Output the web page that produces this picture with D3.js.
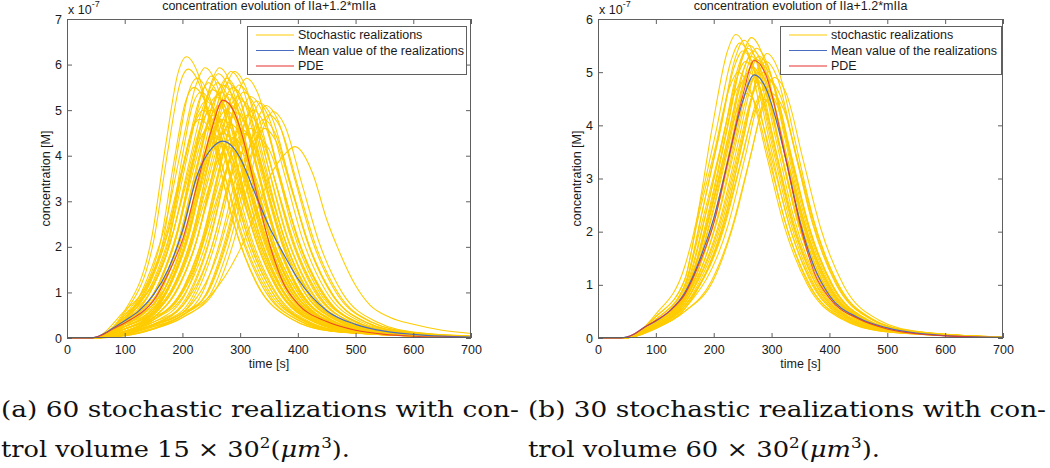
<!DOCTYPE html>
<html><head><meta charset="utf-8">
<script src="https://cdn.jsdelivr.net/npm/d3@7"></script>
<style>body{margin:0;background:#fff}svg{display:block}</style>
</head><body>
<svg id="c" width="1050" height="468"></svg>
<script>
// ---------- data (values in units of 1e-7 M, time in s) ----------
const xTicks=[0,100,200,300,400,500,600,700];
const yTicksA=[0,1,2,3,4,5,6,7];
const yTicksB=[0,1,2,3,4,5,6];
const titleText="concentration evolution of IIa+1.2*mIIa";
const xLabel="time [s]";
const yLabel="concentration [M]";
const legendA=["Stochastic realizations","Mean value of the realizations","PDE"];
const legendB=["stochastic realizations","Mean value of the realizations","PDE"];

const gridT=[0,40,50,60,80,100,125,150,175,200,225,250,270,290,300,325,350,375,400,450,500,550,600,650,700];
const pdeV=[0,0,0.02,0.06,0.2,0.33,0.52,0.82,1.4,2.15,3.35,4.55,5.22,4.95,4.6,3.35,2.1,1.2,0.75,0.36,0.17,0.08,0.04,0.02,0.01];
const meanAV=[0,0,0.02,0.07,0.22,0.38,0.6,0.95,1.5,2.35,3.55,4.15,4.32,4.15,3.95,3.2,2.45,1.85,1.3,0.6,0.3,0.15,0.08,0.04,0.02];
const meanBV=[0,0,0.02,0.06,0.2,0.32,0.52,0.85,1.45,2.25,3.35,4.45,4.95,4.7,4.4,3.35,2.15,1.3,0.8,0.38,0.19,0.09,0.045,0.02,0.01];

// each realization: flattened [t,v, t,v, ...]
const realA=[
[0,0,45,0,100,.6,147,2.22,172,4.32,192,5.8,207,6.17,227,5.8,257,4.2,287,2.59,327,1.23,387,.43,457,.15,700,.01],
[0,0,45,0,100,.55,150,2.12,175,4.13,195,5.55,210,5.9,230,5.55,260,4.01,290,2.48,330,1.18,390,.41,460,.15,700,.01],
[0,0,45,0,100,.5,160,2.0,185,3.85,205,5.17,220,5.5,240,5.17,270,3.74,300,2.31,340,1.1,400,.39,470,.14,700,.01],
[0,0,45,0,100,.45,165,2.05,190,3.99,210,5.36,225,5.7,245,5.36,275,3.88,305,2.39,345,1.14,405,.4,475,.14,700,.01],
[0,0,45,0,100,.45,172,1.94,197,3.78,217,5.08,232,5.4,252,5.08,282,3.67,312,2.27,352,1.08,412,.38,482,.135,700,.01],
[0,0,45,0,100,.5,170,1.73,195,3.36,215,4.51,230,4.8,250,4.51,280,3.26,310,2.02,350,.96,410,.34,480,.12,700,.01],
[0,0,45,0,100,.6,136,1.1,166,2.05,196,3.55,221,4.7,236,5.0,256,4.7,286,3.4,316,2.1,356,1.0,416,.35,486,.125,700,.01],
[0,0,45,0,100,.4,139,1.3,169,2.43,199,4.21,224,5.57,239,5.93,259,5.57,289,4.03,319,2.49,359,1.19,419,.42,489,.15,700,.01],
[0,0,45,0,100,.4,140,1.14,170,2.13,200,3.69,225,4.89,240,5.2,260,4.89,290,3.54,320,2.18,360,1.04,420,.36,490,.13,700,.01],
[0,0,45,0,100,.45,144,1.01,174,1.89,204,3.27,229,4.32,244,4.6,264,4.32,294,3.13,324,1.93,364,.92,424,.32,494,.115,700,.01],
[0,0,45,0,100,.35,145,1.23,175,2.3,205,3.98,230,5.26,245,5.6,265,5.26,295,3.81,325,2.35,365,1.12,425,.39,495,.14,700,.01],
[0,0,45,0,100,.35,148,1.1,178,2.05,208,3.55,233,4.7,248,5.0,268,4.7,298,3.4,328,2.1,368,1.0,428,.35,498,.125,700,.01],
[0,0,45,0,100,.4,150,1.27,180,2.36,210,4.08,235,5.41,250,5.75,270,5.41,300,3.91,330,2.42,370,1.15,430,.4,500,.14,700,.01],
[0,0,45,0,100,.3,152,1.2,182,2.23,212,3.87,237,5.12,252,5.45,272,5.12,302,3.71,332,2.29,372,1.09,432,.38,502,.14,700,.01],
[0,0,45,0,100,.35,155,1.08,185,2.01,215,3.48,240,4.61,255,4.9,275,4.61,305,3.33,335,2.06,375,.98,435,.34,505,.12,700,.01],
[0,0,45,0,100,.4,156,.97,186,1.8,216,3.12,241,4.14,256,4.4,276,4.14,306,2.99,336,1.85,376,.88,436,.31,506,.11,700,.01],
[0,0,45,0,100,.3,158,1.17,188,2.17,218,3.76,243,4.98,258,5.3,278,4.98,308,3.6,338,2.23,378,1.06,438,.37,508,.13,700,.01],
[0,0,45,0,100,.3,160,1.23,190,2.3,220,3.98,245,5.26,260,5.6,280,5.26,310,3.81,340,2.35,380,1.12,440,.39,510,.14,700,.01],
[0,0,45,0,100,.25,162,1.12,192,2.09,222,3.62,247,4.79,262,5.1,282,4.79,312,3.47,342,2.14,382,1.02,442,.36,512,.13,700,.01],
[0,0,45,0,100,.35,163,.95,193,1.76,223,3.05,248,4.04,263,4.3,283,4.04,313,2.92,343,1.81,383,.86,443,.3,513,.11,700,.01],
[0,0,45,0,100,.35,162,1.28,192,2.38,222,4.12,247,5.45,262,5.8,282,5.45,312,3.94,342,2.44,382,1.16,442,.41,512,.145,700,.01],
[0,0,45,0,100,.3,164,1.3,194,2.43,224,4.21,249,5.57,264,5.93,284,5.57,314,4.03,344,2.49,384,1.19,444,.42,514,.15,700,.01],
[0,0,45,0,100,.3,150,.75,166,1.19,196,2.21,226,3.83,251,5.08,266,5.4,286,5.08,316,3.67,346,2.27,386,1.08,446,.38,516,.135,700,.01],
[0,0,45,0,100,.25,150,.6,168,1.06,198,1.97,228,3.41,253,4.51,268,4.8,288,4.51,318,3.26,348,2.02,388,.96,448,.34,518,.12,700,.01],
[0,0,45,0,100,.25,150,.7,170,1.22,200,2.28,230,3.94,255,5.22,270,5.55,290,5.22,320,3.77,350,2.33,390,1.11,450,.39,520,.14,700,.01],
[0,0,45,0,100,.3,150,.65,170,.99,200,1.85,230,3.2,255,4.23,270,4.5,290,4.23,320,3.06,350,1.89,390,.9,450,.32,520,.11,700,.01],
[0,0,45,0,100,.3,150,.75,172,1.14,202,2.13,232,3.69,257,4.89,272,5.2,292,4.89,322,3.54,352,2.18,392,1.04,452,.36,522,.13,700,.01],
[0,0,45,0,100,.2,150,.55,175,1.1,205,2.05,235,3.55,260,4.7,275,5.0,295,4.7,325,3.4,355,2.1,395,1.0,455,.35,525,.125,700,.01],
[0,0,45,0,100,.25,150,.65,176,1.25,206,2.34,236,4.05,261,5.36,276,5.7,296,5.36,326,3.88,356,2.39,396,1.14,456,.4,526,.14,700,.015],
[0,0,45,0,100,.25,150,.55,178,.92,208,1.72,238,2.98,263,3.95,278,4.2,298,3.95,328,2.86,358,1.76,398,.84,458,.29,528,.105,700,.01],
[0,0,45,0,100,.2,150,.6,179,1.23,209,2.3,239,3.98,264,5.26,279,5.6,299,5.26,329,3.81,359,2.35,399,1.12,459,.39,529,.14,700,.015],
[0,0,45,0,100,.2,150,.55,180,1.18,210,2.19,240,3.8,265,5.03,280,5.35,300,5.03,330,3.64,360,2.25,400,1.07,460,.37,530,.13,700,.015],
[0,0,45,0,100,.2,150,.5,182,1.03,212,1.93,242,3.34,267,4.42,282,4.7,302,4.42,332,3.2,362,1.97,402,.94,462,.33,532,.12,700,.015],
[0,0,45,0,100,.25,150,.6,184,1.29,214,2.4,244,4.15,269,5.5,284,5.85,304,5.5,334,3.98,364,2.46,404,1.17,464,.41,534,.15,700,.015],
[0,0,45,0,100,.2,150,.5,185,1.12,215,2.09,245,3.62,270,4.79,285,5.1,305,4.79,335,3.47,365,2.14,405,1.02,465,.36,535,.13,700,.015],
[0,0,45,0,100,.2,150,.45,186,.97,216,1.8,246,3.12,271,4.14,286,4.4,306,4.14,336,2.99,366,1.85,406,.88,466,.31,536,.11,700,.015],
[0,0,45,0,100,.2,150,.55,187,1.21,217,2.26,247,3.91,272,5.17,287,5.5,307,5.17,337,3.74,367,2.31,407,1.1,467,.39,537,.14,700,.015],
[0,0,45,0,100,.2,150,.55,190,1.29,220,2.4,250,4.15,275,5.5,290,5.85,310,5.5,340,3.98,370,2.46,410,1.17,470,.41,540,.15,700,.02],
[0,0,45,0,100,.15,150,.45,192,1.09,222,2.03,252,3.51,277,4.65,292,4.95,312,4.65,342,3.37,372,2.08,412,.99,472,.35,542,.12,700,.02],
[0,0,45,0,100,.15,150,.45,195,1.17,225,2.17,255,3.76,280,4.98,295,5.3,315,4.98,345,3.6,375,2.23,415,1.06,475,.37,545,.13,700,.02],
[0,0,45,0,100,.2,150,.45,196,.9,226,1.68,256,2.91,281,3.85,296,4.1,316,3.85,346,2.79,376,1.72,416,.82,476,.29,546,.1,700,.02],
[0,0,45,0,100,.15,150,.45,198,1.22,228,2.28,258,3.94,283,5.22,298,5.55,318,5.22,348,3.77,378,2.33,418,1.11,478,.39,548,.14,700,.02],
[0,0,45,0,100,.15,150,.4,200,1.01,230,1.89,260,3.27,285,4.32,300,4.6,320,4.32,350,3.13,380,1.93,420,.92,480,.32,550,.115,700,.02],
[0,0,45,0,100,.12,150,.4,203,1.14,233,2.13,263,3.69,288,4.89,303,5.2,323,4.89,353,3.54,383,2.18,423,1.04,483,.36,553,.13,700,.02],
[0,0,45,0,100,.12,150,.4,206,1.19,236,2.21,266,3.83,291,5.08,306,5.4,326,5.08,356,3.67,386,2.27,426,1.08,486,.38,556,.135,700,.02],
[0,0,45,0,100,.15,150,.4,205,.99,235,1.85,265,3.2,290,4.23,305,4.5,325,4.23,355,3.06,385,1.89,425,.9,485,.32,555,.11,700,.02],
[0,0,45,0,100,.12,150,.35,200,.85,241,2.34,271,4.05,296,5.36,311,5.7,331,5.36,361,3.88,391,2.39,431,1.14,491,.4,561,.14,700,.025],
[0,0,45,0,100,.1,150,.3,200,.75,243,2.01,273,3.48,298,4.61,313,4.9,333,4.61,363,3.33,393,2.06,433,.98,493,.34,563,.12,700,.025],
[0,0,45,0,100,.1,150,.3,200,.7,248,2.17,278,3.76,303,4.98,318,5.3,338,4.98,368,3.6,398,2.23,438,1.06,498,.37,568,.13,700,.03],
[0,0,45,0,100,.12,150,.35,200,.7,248,1.89,278,3.27,303,4.32,318,4.6,338,4.32,368,3.13,398,1.93,438,.92,498,.32,568,.115,700,.03],
[0,0,45,0,100,.1,150,.3,200,.6,252,2.05,282,3.55,307,4.7,322,5.0,342,4.7,372,3.4,402,2.1,442,1.0,502,.35,572,.125,700,.03],
[0,0,45,0,100,.08,150,.28,200,.55,258,2.13,288,3.69,313,4.89,328,5.2,348,4.89,378,3.54,408,2.18,448,1.04,508,.36,578,.13,700,.03],
[0,0,45,0,100,.1,150,.3,200,.55,260,1.8,290,3.12,315,4.14,330,4.4,350,4.14,380,2.99,410,1.85,450,.88,510,.31,580,.11,700,.03],
[0,0,45,0,100,.08,150,.25,200,.5,235,1.0,265,2.11,295,3.66,320,4.84,335,5.15,355,4.84,385,3.5,415,2.16,455,1.03,515,.36,585,.13,700,.035],
[0,0,45,0,100,.07,150,.25,200,.5,240,.95,270,1.97,300,3.41,325,4.51,340,4.8,360,4.51,390,3.26,420,2.02,460,.96,520,.34,590,.12,700,.035],
[0,0,45,0,100,.08,150,.28,200,.55,242,.95,272,1.89,302,3.27,327,4.32,342,4.6,362,4.32,392,3.13,422,1.93,462,.92,522,.32,592,.115,700,.035],
[0,0,45,0,100,.06,150,.22,200,.5,245,1.05,275,2.09,305,3.62,330,4.79,345,5.1,365,4.79,395,3.47,425,2.14,465,1.02,525,.36,595,.13,700,.04],
[0,0,45,0,100,.06,150,.2,200,.45,250,1.0,280,2.01,310,3.48,335,4.61,350,4.9,370,4.61,400,3.33,430,2.06,470,.98,530,.34,600,.12,700,.04],
[0,0,45,0,100,.05,150,.2,200,.45,257,1.05,287,2.04,317,3.53,342,4.67,357,4.97,377,4.67,407,3.38,437,2.09,477,.99,537,.35,607,.12,700,.045],
[0,0,45,0,100,.05,150,.2,200,.5,250,.95,300,1.95,330,2.85,352,3.55,375,4.0,395,4.2,426,3.6,450,2.6,470,1.95,500,1.15,525,.72,560,.45,600,.3,650,.17,700,.1]
];

const realB=[
[0,0,45,0,100,.45,150,1.35,170,2.2,198,4.0,223,5.37,238,5.71,258,5.37,288,3.88,318,2.4,358,1.14,418,.4,488,.14,700,.01],
[0,0,45,0,100,.4,150,1.1,172,2.2,202,3.55,227,4.7,242,5.0,262,4.7,292,3.4,322,2.1,362,1.0,422,.35,492,.125,700,.01],
[0,0,45,0,100,.4,150,1.1,175,2.44,205,3.94,230,5.22,245,5.55,265,5.22,295,3.77,325,2.33,365,1.11,425,.39,495,.14,700,.01],
[0,0,45,0,100,.35,150,1.0,178,2.11,208,3.41,233,4.51,248,4.8,268,4.51,298,3.26,328,2.02,368,.96,428,.34,498,.12,700,.01],
[0,0,45,0,100,.35,150,1.0,180,2.38,210,3.83,235,5.08,250,5.4,270,5.08,300,3.67,330,2.27,370,1.08,430,.38,500,.135,700,.01],
[0,0,45,0,100,.35,150,.95,182,2.46,212,3.98,237,5.26,252,5.6,272,5.26,302,3.81,332,2.35,372,1.12,432,.39,502,.14,700,.01],
[0,0,45,0,100,.3,150,.9,185,2.29,215,3.69,240,4.89,255,5.2,275,4.89,305,3.54,335,2.18,375,1.04,435,.36,505,.13,700,.01],
[0,0,45,0,100,.3,150,.85,186,2.02,216,3.27,241,4.32,256,4.6,276,4.32,306,3.13,336,1.93,376,.92,436,.32,506,.115,700,.01],
[0,0,45,0,100,.3,150,.85,188,2.4,218,3.87,243,5.12,258,5.45,278,5.12,308,3.71,338,2.29,378,1.09,438,.38,508,.14,700,.01],
[0,0,45,0,100,.3,150,.8,190,2.2,220,3.55,245,4.7,260,5.0,280,4.7,310,3.4,340,2.1,380,1.0,440,.35,510,.125,700,.01],
[0,0,45,0,100,.3,150,.8,192,2.42,222,3.91,247,5.17,262,5.5,282,5.17,312,3.74,342,2.31,382,1.1,442,.39,512,.14,700,.01],
[0,0,45,0,100,.3,150,.8,194,2.33,224,3.76,249,4.98,264,5.3,284,4.98,314,3.6,344,2.23,384,1.06,444,.37,514,.13,700,.01],
[0,0,45,0,100,.3,150,.8,195,2.49,225,4.01,250,5.31,265,5.65,285,5.31,315,3.84,345,2.37,385,1.13,445,.4,515,.14,700,.01],
[0,0,45,0,100,.28,150,.75,196,2.24,226,3.62,251,4.79,266,5.1,286,4.79,316,3.47,346,2.14,386,1.02,446,.36,516,.13,700,.01],
[0,0,45,0,100,.28,150,.75,198,2.38,228,3.83,253,5.08,268,5.4,288,5.08,318,3.67,348,2.27,388,1.08,448,.38,518,.135,700,.01],
[0,0,45,0,100,.28,150,.75,200,2.16,230,3.48,255,4.61,270,4.9,290,4.61,320,3.33,350,2.06,390,.98,450,.34,520,.12,700,.01],
[0,0,45,0,100,.25,150,.7,202,2.31,232,3.73,257,4.94,272,5.25,292,4.94,322,3.57,352,2.21,392,1.05,452,.37,522,.13,700,.01],
[0,0,45,0,100,.25,150,.7,204,2.4,234,3.87,259,5.12,274,5.45,294,5.12,324,3.71,354,2.29,394,1.09,454,.38,524,.14,700,.01],
[0,0,45,0,100,.25,150,.7,206,2.2,236,3.55,261,4.7,276,5.0,296,4.7,326,3.4,356,2.1,396,1.0,456,.35,526,.125,700,.01],
[0,0,45,0,100,.25,150,.65,208,2.33,238,3.76,263,4.98,278,5.3,298,4.98,328,3.6,358,2.23,398,1.06,458,.37,528,.13,700,.01],
[0,0,45,0,100,.22,150,.65,210,2.11,240,3.41,265,4.51,280,4.8,300,4.51,330,3.26,360,2.02,400,.96,460,.34,530,.12,700,.01],
[0,0,45,0,100,.22,150,.65,212,2.27,242,3.66,267,4.84,282,5.15,302,4.84,332,3.5,362,2.16,402,1.03,462,.36,532,.13,700,.01],
[0,0,45,0,100,.22,150,.6,214,1.98,244,3.2,269,4.23,284,4.5,304,4.23,334,3.06,364,1.89,404,.9,464,.32,534,.11,700,.01],
[0,0,45,0,100,.22,150,.6,215,2.2,245,3.55,270,4.7,285,5.0,305,4.7,335,3.4,365,2.1,405,1.0,465,.35,535,.125,700,.012],
[0,0,45,0,100,.2,150,.6,218,2.07,248,3.34,273,4.42,288,4.7,308,4.42,338,3.2,368,1.97,408,.94,468,.33,538,.12,700,.012],
[0,0,45,0,100,.2,150,.55,220,2.29,250,3.69,275,4.89,290,5.2,310,4.89,340,3.54,370,2.18,410,1.04,470,.36,540,.13,700,.012],
[0,0,45,0,100,.2,150,.55,222,2.35,252,3.8,277,5.03,292,5.35,312,5.03,342,3.64,372,2.25,412,1.07,472,.37,542,.13,700,.012],
[0,0,45,0,100,.2,150,.55,225,2.13,255,3.44,280,4.56,295,4.85,315,4.56,345,3.3,375,2.04,415,.97,475,.34,545,.12,700,.015],
[0,0,45,0,100,.18,150,.5,195,1.05,230,2.02,260,3.27,285,4.32,300,4.6,320,4.32,350,3.13,380,1.93,420,.92,480,.32,550,.115,700,.015],
[0,0,45,0,100,.18,150,.5,200,1.1,235,2.16,265,3.48,290,4.61,305,4.9,325,4.61,355,3.33,385,2.06,425,.98,485,.34,555,.12,700,.015]
];

// ---------- drawing ----------
const svg=d3.select("#c");
const FONT="'Liberation Sans', Arial, Helvetica, sans-serif";
const SERIF="'DejaVu Serif', serif";
const AX="#5f5f5f", TXT="#1a1a1a";
const YEL="#ffcc00", BLUE="#4a6cc0", RED="#e8312f";

function pairs(flat){const out=[];for(let i=0;i<flat.length;i+=2)out.push([flat[i],flat[i+1]]);return out;}
function zip(t,v){return t.map((d,i)=>[d,v[i]]);}

function panel(o){
  const g=svg.append("g");
  const x=d3.scaleLinear().domain([0,700]).range([o.x0,o.x1]);
  const y=d3.scaleLinear().domain([0,o.ymax]).range([o.y1,o.y0]);
  const line=d3.line().x(d=>x(d[0])).y(d=>y(d[1])).curve(d3.curveMonotoneX);
  const lg=g.append("g");
  lg.selectAll("path.real").data(o.real.map(pairs)).join("path").attr("class","real")
    .attr("d",line).attr("fill","none").attr("stroke",YEL).attr("stroke-width",1.05);
  lg.append("path").attr("d",line(zip(gridT,o.mean))).attr("fill","none").attr("stroke",BLUE).attr("stroke-width",1.2);
  lg.append("path").attr("d",line(zip(gridT,pdeV))).attr("fill","none").attr("stroke",RED).attr("stroke-width",1.1).attr("stroke-opacity",0.85);

  // axes (ticks pointing inward)
  const fixAxis=sel=>{sel.select(".domain").remove();sel.attr("font-family",FONT).attr("font-size",12.5);
    sel.selectAll("line").attr("stroke",AX);sel.selectAll("text").attr("fill",TXT);};
  g.append("g").attr("transform",`translate(0,${o.y1})`)
    .call(d3.axisBottom(x).tickValues(xTicks).tickFormat(d3.format("d")).tickSizeInner(-5).tickSizeOuter(0).tickPadding(7)).call(fixAxis);
  g.append("g").attr("transform",`translate(0,${o.y0})`)
    .call(d3.axisTop(x).tickValues(xTicks).tickFormat("").tickSizeInner(-5).tickSizeOuter(0)).call(fixAxis);
  g.append("g").attr("transform",`translate(${o.x0},0)`)
    .call(d3.axisLeft(y).tickValues(o.yTicks).tickFormat(d3.format("d")).tickSizeInner(-5).tickSizeOuter(0).tickPadding(5)).call(fixAxis);
  g.append("g").attr("transform",`translate(${o.x1},0)`)
    .call(d3.axisRight(y).tickValues(o.yTicks).tickFormat("").tickSizeInner(-5).tickSizeOuter(0)).call(fixAxis);
  g.append("rect").attr("x",o.x0+0.5).attr("y",o.y0+0.5).attr("width",o.x1-o.x0-1).attr("height",o.y1-o.y0-1)
    .attr("fill","none").attr("stroke",AX).attr("stroke-width",1);

  // labels
  const tx=g.append("g").attr("font-family",FONT).attr("font-size",12.5).attr("fill",TXT);
  tx.append("text").attr("x",(o.x0+o.x1)/2).attr("y",o.y1+29.5).attr("text-anchor","middle").text(xLabel);
  tx.append("text").attr("transform",`translate(${o.x0-21},${(o.y0+o.y1)/2}) rotate(-90)`).attr("dy","0.35em")
    .attr("text-anchor","middle").text(yLabel);
  tx.append("text").attr("x",(o.x0+o.x1)/2).attr("y",10).attr("text-anchor","middle").text(titleText);
  const ex=tx.append("text").attr("x",o.x0+1).attr("y",13.5);
  ex.append("tspan").text("x 10");
  ex.append("tspan").attr("dy",-7).attr("font-size",9).text("-7");

  // legend
  const L=g.append("g");
  L.append("rect").attr("x",o.lx+0.5).attr("y",26.5).attr("width",o.lw).attr("height",48)
    .attr("fill","#fff").attr("stroke",AX).attr("stroke-width",1);
  const cols=[YEL,BLUE,RED];
  o.legend.forEach((s,i)=>{
    const yy=35+i*15.5;
    L.append("line").attr("x1",o.lx+9).attr("x2",o.lx+47).attr("y1",yy).attr("y2",yy).attr("stroke",cols[i]).attr("stroke-width",1.2);
    L.append("text").attr("x",o.lx+51).attr("y",yy).attr("dy","0.35em").attr("font-family",FONT).attr("font-size",12.5).attr("fill",TXT).text(s);
  });

  // caption
  const C=g.append("g").attr("font-family",SERIF).attr("font-size",23).attr("fill","#111");
  const c1=C.append("text").attr("x",o.cx).attr("y",417).attr("textLength",o.cw1).attr("lengthAdjust","spacingAndGlyphs");
  c1.text(o.cap1);
  const c2=C.append("text").attr("x",o.cx).attr("y",457).attr("textLength",o.cw2).attr("lengthAdjust","spacingAndGlyphs");
  c2.append("tspan").text(o.cap2a);
  c2.append("tspan").attr("dy",-9).attr("font-size",15).text("2");
  c2.append("tspan").attr("dy",9).text("(");
  c2.append("tspan").attr("font-style","italic").text("\u03BCm");
  c2.append("tspan").attr("dy",-9).attr("font-size",15).text("3");
  c2.append("tspan").attr("dy",9).text(").");
}

panel({id:"A",x0:67,x1:471,y0:19,y1:338,ymax:7,yTicks:yTicksA,real:realA,mean:meanAV,legend:legendA,lx:247,lw:219,
  cx:1,cw1:518,cw2:349,cap1:"(a) 60 stochastic realizations with con-",cap2a:"trol volume 15 \u00D7 30"});
panel({id:"B",x0:598,x1:1003,y0:19,y1:338,ymax:6,yTicks:yTicksB,real:realB,mean:meanBV,legend:legendB,lx:780,lw:221,
  cx:528,cw1:518,cw2:352,cap1:"(b) 30 stochastic realizations with con-",cap2a:"trol volume 60 \u00D7 30"});
</script>
</body></html>
